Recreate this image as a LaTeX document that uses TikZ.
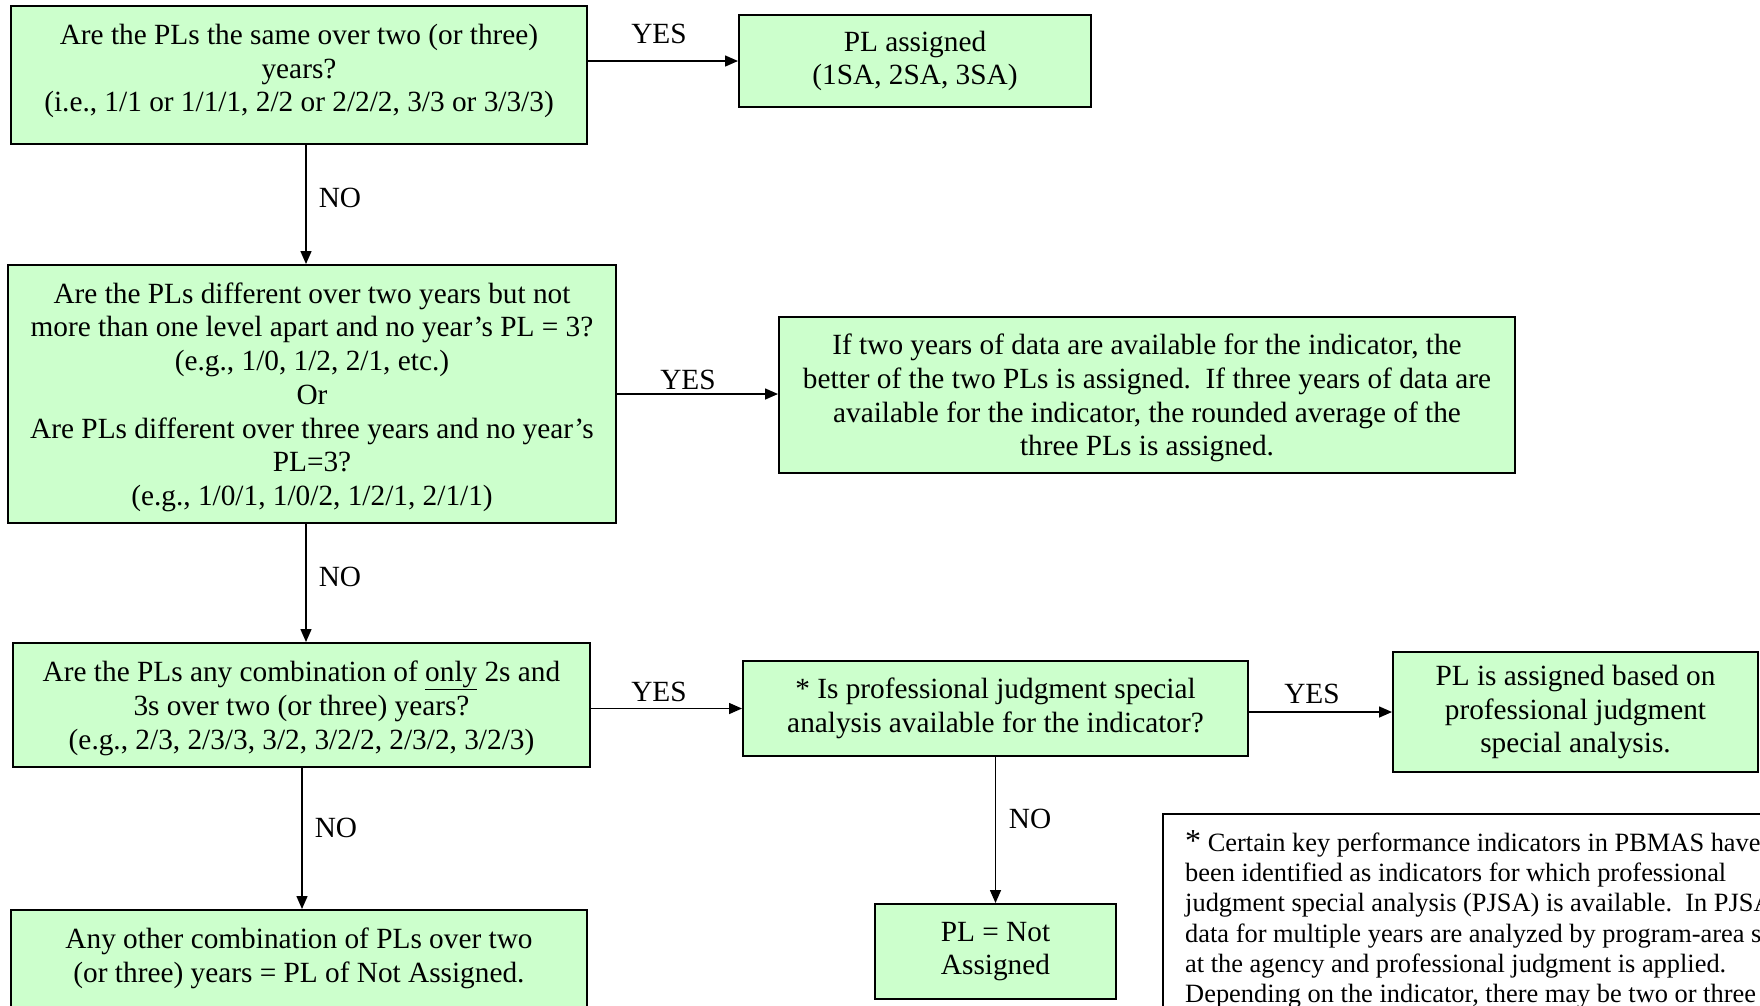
\documentclass[tikz,border=0pt]{standalone}
\usepackage{fontspec}
\setmainfont{Liberation Serif}
\usetikzlibrary{arrows.meta}
\newcommand\bxf{\fontsize{29.3}{33.7}\selectfont}
\newcommand\ntf{\fontsize{26.4}{30.3}\selectfont}
\newcommand\dn{\rule{0pt}{27pt}}
\definecolor{boxgreen}{HTML}{CCFFCC}
\tikzset{
  box/.style={draw=black, line width=2pt, fill=boxgreen, inner sep=0pt, align=center, font=\bxf},
  lbl/.style={font=\bxf, inner sep=0pt},
  arr/.style={line width=1.5pt, -{Triangle[length=13pt,width=11pt]}},
  notebox/.style={draw=black, line width=1.5pt, fill=white, inner sep=0pt}
}
\begin{document}
\begin{tikzpicture}[x=1pt,y=-1pt]
\useasboundingbox (0,0) rectangle (1760,1005);
% boxes
\node[box, minimum width=576pt, minimum height=138pt] (b1) at (299,75) {};
\node[lbl, align=center] (t1) at (299,71) {Are the PLs the same over two (or three)\\years?\\(i.e., 1/1 or 1/1/1, 2/2 or 2/2/2, 3/3 or 3/3/3)};
\node[box, minimum width=352pt, minimum height=92pt] (bpl) at (915,61) {PL assigned\\(1SA, 2SA, 3SA)};
\node[box, minimum width=608pt, minimum height=258pt] (b2) at (312,394) {\dn Are the PLs different over two years but not\\more than one level apart and no year’s PL = 3?\\(e.g., 1/0, 1/2, 2/1, etc.)\\Or\\Are PLs different over three years and no year’s\\PL=3?\\(e.g., 1/0/1, 1/0/2, 1/2/1, 2/1/1)};
\node[box, minimum width=736pt, minimum height=156pt] (b3) at (1147,395) {\dn If two years of data are available for the indicator, the\\better of the two PLs is assigned.\ \ If three years of data are\\available for the indicator, the rounded average of the\\three PLs is assigned.};
\node[box, minimum width=577pt, minimum height=124pt] (b4) at (301.5,705) {\dn Are the PLs any combination of \underline{only} 2s and\\3s over two (or three) years?\\(e.g., 2/3, 2/3/3, 3/2, 3/2/2, 2/3/2, 3/2/3)};
\node[box, minimum width=505pt, minimum height=95pt] (b5) at (995.5,708.5) {* Is professional judgment special\\analysis available for the indicator?};
\node[box, minimum width=365pt, minimum height=120pt] (b6) at (1575.5,712) {PL is assigned based on\\professional judgment\\special analysis.};
\node[box, minimum width=576pt, minimum height=150pt] (b7) at (299,985) {};
\node[lbl, align=center] (t7) at (299,958) {Any other combination of PLs over two\\(or three) years = PL of Not Assigned.};
\node[box, minimum width=241pt, minimum height=95pt] (b8) at (995.5,951.5) {PL = Not\\Assigned};
\node[notebox, minimum width=637pt, minimum height=286pt] (nb) at (1481.5,957) {};
\node[font=\ntf, align=left, anchor=north west, inner sep=0pt] (nt) at (1185,830) {{\fontsize{32}{30.3}\selectfont *} Certain key performance indicators in PBMAS have\\been identified as indicators for which professional\\judgment special analysis (PJSA) is available.\ \ In PJSA,\\data for multiple years are analyzed by program-area staff\\at the agency and professional judgment is applied.\\Depending on the indicator, there may be two or three};
% connector helpers
\coordinate (v1) at (306,0);
\coordinate (v2) at (302,0);
% horizontal YES arrows
\draw[arr] (bpl.west -| b1.east) -- (bpl.west);
\draw[arr] (b2.east) -- (b2.east -| b3.west);
\draw[arr] (b5.west -| b4.east) -- (b5.west);
\draw[arr] (b6.west -| b5.east) -- (b6.west);
% vertical NO arrows
\draw[arr] (b1.south -| v1) -- (b2.north -| v1);
\draw[arr] (b2.south -| v1) -- (b4.north -| v1);
\draw[arr] (b4.south -| v2) -- (b7.north -| v2);
\draw[arr] (b5.south) -- (b8.north);
% labels
\node[lbl] (y1) at (659,34) {YES};
\node[lbl] (y2) at (688,380) {YES};
\node[lbl] (y3) at (659,692) {YES};
\node[lbl] (y4) at (1312,694) {YES};
\node[lbl] (n1) at (340,198) {NO};
\node[lbl] (n2) at (340,577) {NO};
\node[lbl] (n3) at (336,828) {NO};
\node[lbl] (n4) at (1030,819) {NO};
\end{tikzpicture}
\end{document}
